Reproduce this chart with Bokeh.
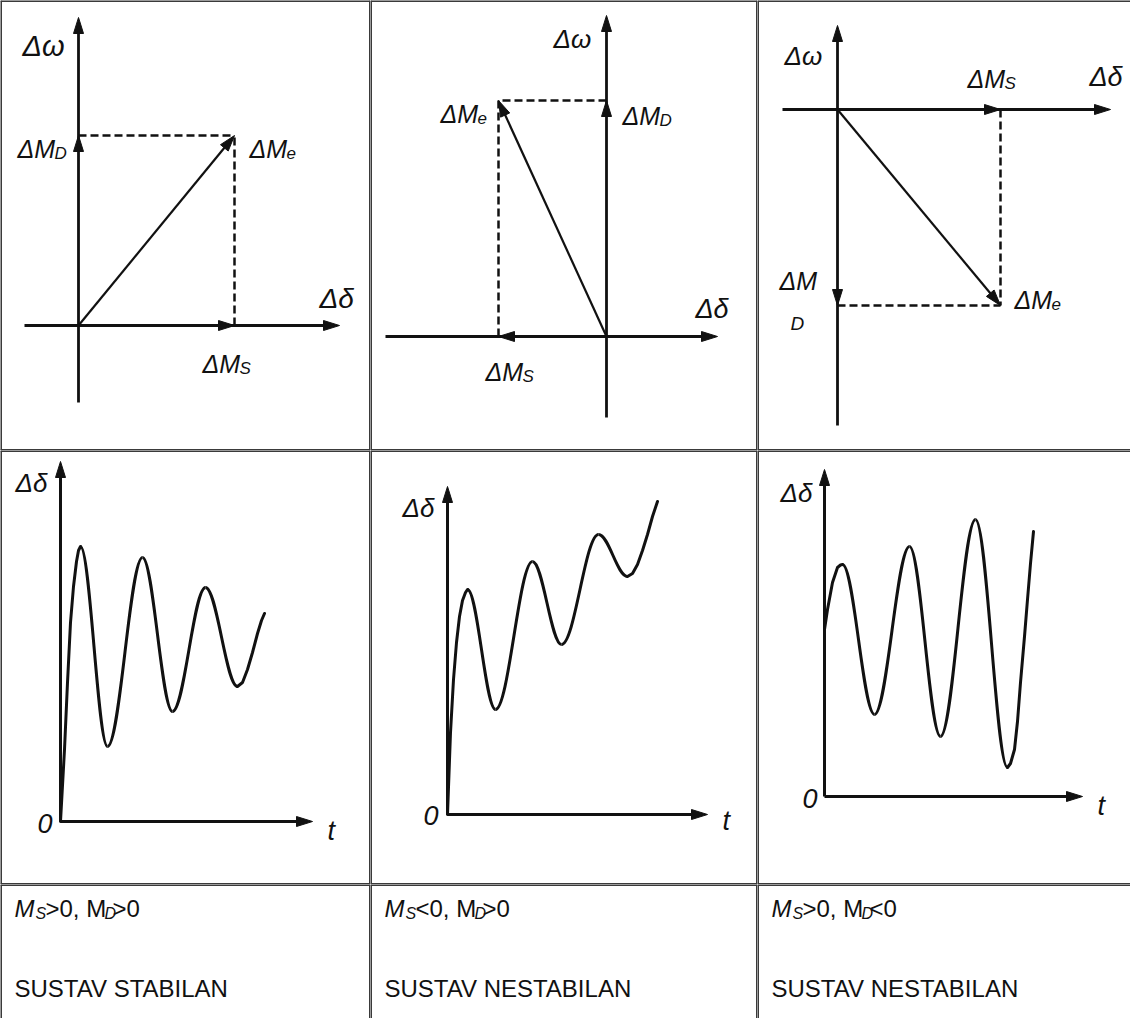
import numpy as np
from bokeh.plotting import figure
from bokeh.layouts import gridplot
from bokeh.models import Range1d, Span
from bokeh.embed import file_html
from bokeh.resources import INLINE
from bokeh.core.properties import value

# ---------------- data ----------------
# Top row: phasor diagrams (arbitrary units, same scale on both axes)
MS = [156, -108, 163]          # synchronising torque component  (along Δδ)
MD = [190, 236, -196]          # damping torque component        (along Δω)
DELTA_AXIS = [[-54, 261], [-221, 111], [-55, 273]]
OMEGA_AXIS = [[-77, 308], [-81, 321], [-316, 84]]

# Bottom row: rotor angle response Δδ(t)
# initial rise (read points), successive extremes, final rise (read points)
RISE_T = [[0, 4, 7, 10, 13, 16, 18, 20], [0, 3, 6, 9, 12, 15, 18, 20], [0, 3, 8, 13, 16, 18]]
RISE_D = [[0, 72, 139, 199, 235, 260, 271, 275], [0, 82, 135, 172, 198, 214, 222, 225],
          [167, 187, 214, 229, 231.5, 232]]
EXT_T = [[20, 47, 82, 112, 145, 177], [20, 48, 85, 114, 151, 180], [18, 50, 85, 116, 151, 183]]
EXT_D = [[275, 75, 264, 110, 234, 135], [225, 105, 253, 170, 280, 238], [232, 82, 250, 60, 277, 29]]
TAIL_T = [[177, 182, 187, 192, 197, 201, 204], [180, 185, 190, 195, 200, 205, 210],
          [183, 186, 190, 193, 196, 200, 203, 206, 209]]
TAIL_D = [[135, 139, 152, 169, 188, 201, 208], [238, 241, 250, 264, 280, 298, 313],
          [29, 33, 47, 75, 114, 160, 197, 233, 265]]
T_AXIS = [252, 260, 258]
DD_AXIS = [360, 328, 327]

# Bottom row of the table: conditions and verdicts
MS_SIGN = [">", "<", ">"]
MD_SIGN = [">", ">", "<"]
STATUS = ["SUSTAV STABILAN", "SUSTAV NESTABILAN", "SUSTAV NESTABILAN"]

# ---------------- layout / style ----------------
COL_W = [370, 387, 373]
ROW_H = [450, 434, 134]
ORIGIN_TOP = [(78, 325), (236, 336), (80, 109)]   # axis crossing inside the cell (px from left, top)
ORIGIN_BOT = [(60, 371), (77, 364), (67, 346)]
INK = "#111111"
GRID = "#3a3a3a"
FONT = value("Liberation Sans")
K = 0.36   # bezier handle length for a half-wave between two extremes

# (anchor, main text, subscript, x_off, y_off, sub dx, sub dy, font size)
TOP_LABELS = [
    [("wtop", "Δω", "", -56, 28, 0, 0, "29px"), ("md", "ΔM", "D", -61, 13, 37, 5, "25px"),
     ("me", "ΔM", "e", 15, 13, 37, 4, "25px"), ("dend", "Δδ", "", -20, -27, 0, 0, "28px"),
     ("ms", "ΔM", "S", -32, 38, 37, 5, "25px")],
    [("wtop", "Δω", "", -53, 23, 0, 0, "26px"), ("me", "ΔM", "e", -58, 13, 37, 4, "25px"),
     ("md", "ΔM", "D", 16, 15, 37, 5, "25px"), ("dend", "Δδ", "", -22, -28, 0, 0, "27px"),
     ("ms", "ΔM", "S", -13, 35, 37, 5, "25px")],
    [("wtop", "Δω", "", -53, 30, 0, 0, "26px"), ("ms", "ΔM", "S", -33, -31, 37, 5, "25px"),
     ("dend", "Δδ", "", -21, -33, 0, 0, "27px"), ("md", "ΔM", "D", -58, -25, 11, 43, "25px"),
     ("me", "ΔM", "e", 14, -6, 37, 4, "25px")],
]
BOT_LABELS = [
    [("vtop", "Δδ", -45, 21, "26px"), ("orig", "0", -23, 2, "27px"), ("hend", "t", 15, 9, "27px")],
    [("vtop", "Δδ", -45, 21, "26px"), ("orig", "0", -24, 1, "27px"), ("hend", "t", 15, 6, "27px")],
    [("vtop", "Δδ", -44, 23, "26px"), ("orig", "0", -22, 2, "27px"), ("hend", "t", 15, 9, "27px")],
]


def make_fig(w, h, xr, yr):
    p = figure(width=w, height=h, x_range=Range1d(*xr), y_range=Range1d(*yr),
               output_backend="svg", toolbar_location=None, min_border=0,
               x_axis_type=None, y_axis_type=None, outline_line_color=None,
               background_fill_color="white", border_fill_color="white")
    p.grid.visible = False
    return p


def borders(p, r, c):
    xr, yr = p.x_range, p.y_range
    kw = dict(line_color=GRID, line_width=3)
    p.add_layout(Span(location=xr.start, dimension="height", **kw))
    p.add_layout(Span(location=yr.end, dimension="width", **kw))
    if c < 2:
        p.add_layout(Span(location=xr.end, dimension="height", **kw))
    if r < 2:
        p.add_layout(Span(location=yr.start, dimension="width", **kw))


def head(p, x1, y1, ux, uy, hl=16, hw=5):
    bx, by = x1 - ux * hl, y1 - uy * hl
    p.patch([x1, bx - uy * hw, bx + uy * hw], [y1, by + ux * hw, by - ux * hw],
            fill_color=INK, line_color=INK, line_width=1)


def arrow(p, x0, y0, x1, y1, lw, hl=16, hw=5):
    L = np.hypot(x1 - x0, y1 - y0)
    ux, uy = (x1 - x0) / L, (y1 - y0) / L
    p.line([x0, x1 - ux * (hl - 3)], [y0, y1 - uy * (hl - 3)], line_width=lw, line_color=INK)
    head(p, x1, y1, ux, uy, hl, hw)


def txt(p, x, y, s, size, xo, yo, style="italic"):
    p.text(x=[x], y=[y], text=[s], text_font=FONT, text_font_style=style,
           text_font_size=size, text_color=INK, text_align="left",
           text_baseline="alphabetic", x_offset=xo, y_offset=yo)


figs = [[], [], []]

# ---- top row: phasor diagrams ----
for c in range(3):
    ox, oy = ORIGIN_TOP[c]
    w, h = COL_W[c], ROW_H[0]
    p = make_fig(w, h, (-ox, w - ox), (oy - h, oy))
    ms, md = MS[c], MD[c]
    dax, wax = DELTA_AXIS[c], OMEGA_AXIS[c]
    # dashed projections
    p.line([0, ms], [md, md], line_width=2.5, line_color=INK, line_dash="8 4")
    p.line([ms, ms], [0, md], line_width=2.5, line_color=INK, line_dash="8 4")
    # axes
    arrow(p, dax[0], 0, dax[1], 0, 2.8)
    arrow(p, 0, wax[0], 0, wax[1], 2.8)
    # components on the axes
    head(p, ms, 0, np.sign(ms), 0)
    head(p, 0, md, 0, np.sign(md))
    # resulting electric torque vector
    arrow(p, 0, 0, ms, md, 2.2)
    anchors = {"wtop": (0, wax[1]), "dend": (dax[1], 0), "me": (ms, md),
               "md": (0, md), "ms": (ms, 0)}
    for key, main, sub, xo, yo, sdx, sdy, size in TOP_LABELS[c]:
        ax, ay = anchors[key]
        txt(p, ax, ay, main, size, xo, yo)
        if sub:
            txt(p, ax, ay, sub, "17px" if sdy < 20 else "19px", xo + sdx, yo + sdy)
    borders(p, 0, c)
    figs[0].append(p)

# ---- middle row: time responses ----
for c in range(3):
    ox, oy = ORIGIN_BOT[c]
    w, h = COL_W[c], ROW_H[1]
    p = make_fig(w, h, (-ox, w - ox), (oy - h, oy))
    arrow(p, 0, 0, T_AXIS[c], 0, 3)
    arrow(p, 0, 0, 0, DD_AXIS[c], 3)
    style = dict(line_width=3, line_color=INK)
    p.line(RISE_T[c], RISE_D[c], line_join="round", line_cap="round", **style)
    et, ed = np.array(EXT_T[c], float), np.array(ED := EXT_D[c], float)
    dx = np.diff(et)
    p.bezier(x0=et[:-1], y0=ed[:-1], x1=et[1:], y1=ed[1:],
             cx0=et[:-1] + K * dx, cy0=ed[:-1], cx1=et[1:] - K * dx, cy1=ed[1:], **style)
    p.line(TAIL_T[c], TAIL_D[c], line_join="round", line_cap="round", **style)
    anchors = {"vtop": (0, DD_AXIS[c]), "orig": (0, 0), "hend": (T_AXIS[c], 0)}
    for key, s, xo, yo, size in BOT_LABELS[c]:
        ax, ay = anchors[key]
        txt(p, ax, ay, s, size, xo, yo)
    borders(p, 1, c)
    figs[1].append(p)

# ---- bottom row: conditions ----
for c in range(3):
    w, h = COL_W[c], ROW_H[2]
    p = make_fig(w, h, (0, w), (0, h))
    x0, yb = 14, h - 24
    txt(p, x0, yb, "M", "24px", 0, 0)
    txt(p, x0, yb, "S", "16px", 21, 5)
    txt(p, x0, yb, MS_SIGN[c] + "0, M", "24px", 31, 0, style="normal")
    txt(p, x0, yb, "D", "16px", 90, 5)
    txt(p, x0, yb, MD_SIGN[c] + "0", "24px", 98, 0, style="normal")
    txt(p, x0, h - 104, STATUS[c], "24px", 0, 0, style="normal")
    borders(p, 2, c)
    figs[2].append(p)

grid = gridplot(figs, toolbar_location=None)
open("out.html", "w").write(file_html(grid, INLINE))
